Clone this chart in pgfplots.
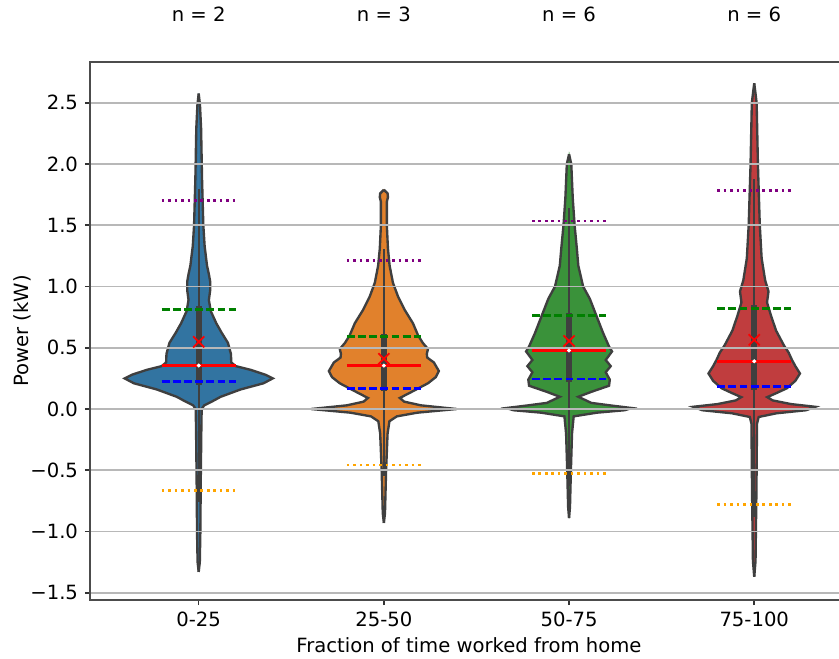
\documentclass[border=0pt]{standalone}
\usepackage{fontspec}
\setmainfont{DejaVu Sans}
\usepackage{pgfplots}
\usepackage{pgfplotstable}
\pgfplotsset{compat=1.18}

\definecolor{vblue}{HTML}{3274A1}
\definecolor{vorange}{HTML}{E1812C}
\definecolor{vgreen}{HTML}{3A923A}
\definecolor{vred}{HTML}{C03D3E}
\definecolor{vedge}{HTML}{3F3F3F}
\definecolor{mpurple}{HTML}{800080}
\definecolor{morange}{HTML}{FFA500}
\definecolor{mgreen}{HTML}{008000}
\definecolor{mblue}{HTML}{0000FF}
\definecolor{mred}{HTML}{FF0000}

% violin half-width profiles (w in category units)
\pgfplotstableread{
y w
-1.33 0
-1.25 0.006
-1.0 0.009
-0.6 0.011
-0.2 0.014
0.0 0.016
0.03 0.03
0.06 0.07
0.10 0.119
0.16 0.227
0.21 0.35
0.25 0.40
0.28 0.36
0.32 0.28
0.35 0.20
0.38 0.176
0.45 0.174
0.54 0.158
0.62 0.125
0.70 0.095
0.80 0.065
0.89 0.055
0.97 0.062
1.04 0.062
1.10 0.055
1.17 0.045
1.33 0.032
1.5 0.025
1.88 0.018
2.29 0.013
2.48 0.007
2.575 0
}\vA
\pgfplotstableread{
y w
-0.93 0
-0.85 0.006
-0.5 0.012
-0.2 0.02
-0.10 0.03
-0.06 0.07
-0.03 0.18
0.0 0.393
0.03 0.20
0.06 0.11
0.09 0.086
0.14 0.15
0.21 0.238
0.26 0.28
0.31 0.297
0.38 0.27
0.42 0.234
0.45 0.232
0.49 0.238
0.54 0.21
0.60 0.185
0.70 0.157
0.81 0.112
0.92 0.076
1.03 0.049
1.17 0.031
1.31 0.022
1.5 0.016
1.69 0.016
1.73 0.022
1.76 0.02
1.79 0
}\vB
\pgfplotstableread{
y w
-0.89 0
-0.8 0.005
-0.5 0.01
-0.2 0.016
-0.06 0.025
-0.03 0.15
-0.01 0.30
0.008 0.339
0.03 0.22
0.05 0.12
0.10 0.05
0.14 0.12
0.19 0.216
0.24 0.22
0.30 0.198
0.35 0.225
0.40 0.198
0.47 0.232
0.51 0.216
0.62 0.184
0.76 0.148
0.90 0.112
1.0 0.076
1.17 0.05
1.31 0.042
1.5 0.03
1.72 0.02
2.0 0.012
2.08 0
}\vC
\pgfplotstableread{
y w
-1.37 0
-1.24 0.007
-0.65 0.012
-0.12 0.015
-0.065 0.024
-0.035 0.12
-0.01 0.28
0.018 0.33
0.04 0.20
0.07 0.10
0.097 0.07
0.13 0.12
0.17 0.177
0.23 0.222
0.29 0.247
0.35 0.222
0.40 0.204
0.46 0.186
0.52 0.16
0.64 0.118
0.76 0.091
0.87 0.069
0.96 0.077
1.05 0.059
1.23 0.04
1.5 0.03
1.99 0.02
2.5 0.013
2.66 0
}\vD

\tikzset{
  purp/.style={mpurple, line width=1.4pt, dash pattern=on 1.3pt off 2.0pt},
  gdash/.style={mgreen, line width=1.4pt, dash pattern=on 4.0pt off 1.7pt},
  bdash/.style={mblue, line width=1.4pt, dash pattern=on 4.0pt off 1.7pt},
  medl/.style={mred, line width=1.4pt},
  orgd/.style={morange, line width=1.4pt, dash pattern=on 1.3pt off 2.0pt},
  whisk/.style={vedge, line width=0.9pt},
  boxl/.style={vedge, line width=3.2pt},
  vfill/.style={fill=#1, draw=#1, line width=0.3pt},
  vline/.style={vedge, line width=1.2pt},
}

\begin{document}
\begin{tikzpicture}
\clip (-45.9pt,-29.6pt) rectangle (382pt,306pt);
\begin{axis}[
  scale only axis, width=394.2pt, height=274.4pt,
  xmin=-0.587, xmax=3.587, ymin=-1.559, ymax=2.833,
  xtick={0,1,2,3}, xticklabels={0-25,25-50,50-75,75-100},
  ytick={-1.5,-1,-0.5,0,0.5,1,1.5,2,2.5},
  yticklabels={−1.5,−1.0,−0.5,0.0,0.5,1.0,1.5,2.0,2.5},
  ymajorgrids, grid style={color=black!28, line width=0.8pt},
  axis on top, clip=false,
  tick align=outside, major tick length=2.6pt,
  xtick pos=left, ytick pos=left,
  tick style={black!80, line width=0.8pt},
  axis line style={black!70, line width=0.9pt},
  xlabel={Fraction of time worked from home}, ylabel={Power (kW)},
  xlabel style={at={(axis description cs:0.4903,-0.0836)}, anchor=center},
  ylabel style={at={(axis description cs:-0.088,0.5)}, anchor=center},
]
% violin bodies: each half closed along its centre line
\addplot[vfill=vblue] table[x expr=0+\thisrow{w}, y=y] {\vA} -- cycle;
\addplot[vfill=vblue] table[x expr=0-\thisrow{w}, y=y] {\vA} -- cycle;
\addplot[vfill=vorange] table[x expr=1+\thisrow{w}, y=y] {\vB} -- cycle;
\addplot[vfill=vorange] table[x expr=1-\thisrow{w}, y=y] {\vB} -- cycle;
\addplot[vfill=vgreen] table[x expr=2+\thisrow{w}, y=y] {\vC} -- cycle;
\addplot[vfill=vgreen] table[x expr=2-\thisrow{w}, y=y] {\vC} -- cycle;
\addplot[vfill=vred] table[x expr=3+\thisrow{w}, y=y] {\vD} -- cycle;
\addplot[vfill=vred] table[x expr=3-\thisrow{w}, y=y] {\vD} -- cycle;
% outlines
\addplot[vline] table[x expr=0+\thisrow{w}, y=y] {\vA};
\addplot[vline] table[x expr=0-\thisrow{w}, y=y] {\vA};
\addplot[vline] table[x expr=1+\thisrow{w}, y=y] {\vB};
\addplot[vline] table[x expr=1-\thisrow{w}, y=y] {\vB};
\addplot[vline] table[x expr=2+\thisrow{w}, y=y] {\vC};
\addplot[vline] table[x expr=2-\thisrow{w}, y=y] {\vC};
\addplot[vline] table[x expr=3+\thisrow{w}, y=y] {\vD};
\addplot[vline] table[x expr=3-\thisrow{w}, y=y] {\vD};

% inner box plots: whiskers, boxes, medians
\addplot[whisk] coordinates {(0,-0.76) (0,1.80)};
\addplot[whisk] coordinates {(1,-0.55) (1,1.31)};
\addplot[whisk] coordinates {(2,-0.63) (2,1.64)};
\addplot[whisk] coordinates {(3,-0.88) (3,1.88)};
\addplot[boxl] coordinates {(0,0.20) (0,0.84)};
\addplot[boxl] coordinates {(1,0.145) (1,0.61)};
\addplot[boxl] coordinates {(2,0.22) (2,0.787)};
\addplot[boxl] coordinates {(3,0.155) (3,0.845)};
\addplot[only marks, mark=*, mark size=0.8pt, mark options={draw=white, fill=white}] coordinates {(0,0.355) (1,0.355) (2,0.478) (3,0.39)};

% statistic lines
\addplot[purp] coordinates {(-0.2,1.705) (0.2,1.705)};
\addplot[purp] coordinates {(0.8,1.215) (1.2,1.215)};
\addplot[purp] coordinates {(1.8,1.535) (2.2,1.535)};
\addplot[purp] coordinates {(2.8,1.785) (3.2,1.785)};
\addplot[gdash] coordinates {(-0.2,0.815) (0.2,0.815)};
\addplot[gdash] coordinates {(0.8,0.59) (1.2,0.59)};
\addplot[gdash] coordinates {(1.8,0.765) (2.2,0.765)};
\addplot[gdash] coordinates {(2.8,0.82) (3.2,0.82)};
\addplot[medl] coordinates {(-0.2,0.355) (0.2,0.355)};
\addplot[medl] coordinates {(0.8,0.355) (1.2,0.355)};
\addplot[medl] coordinates {(1.8,0.48) (2.2,0.48)};
\addplot[medl] coordinates {(2.8,0.39) (3.2,0.39)};
\addplot[bdash] coordinates {(-0.2,0.222) (0.2,0.222)};
\addplot[bdash] coordinates {(0.8,0.17) (1.2,0.17)};
\addplot[bdash] coordinates {(1.8,0.245) (2.2,0.245)};
\addplot[bdash] coordinates {(2.8,0.185) (3.2,0.185)};
\addplot[orgd] coordinates {(-0.2,-0.665) (0.2,-0.665)};
\addplot[orgd] coordinates {(0.8,-0.456) (1.2,-0.456)};
\addplot[orgd] coordinates {(1.8,-0.525) (2.2,-0.525)};
\addplot[orgd] coordinates {(2.8,-0.78) (3.2,-0.78)};
% means
\addplot[only marks, mark=x, mark size=4pt, mred, line width=0.9pt] coordinates {(0,0.548) (1,0.41) (2,0.555) (3,0.565)};

% sample counts
\node[anchor=base, yshift=20.4pt] at (axis cs:0,2.833) {n = 2};
\node[anchor=base, yshift=20.4pt] at (axis cs:1,2.833) {n = 3};
\node[anchor=base, yshift=20.4pt] at (axis cs:2,2.833) {n = 6};
\node[anchor=base, yshift=20.4pt] at (axis cs:3,2.833) {n = 6};
\end{axis}
\end{tikzpicture}
\end{document}
